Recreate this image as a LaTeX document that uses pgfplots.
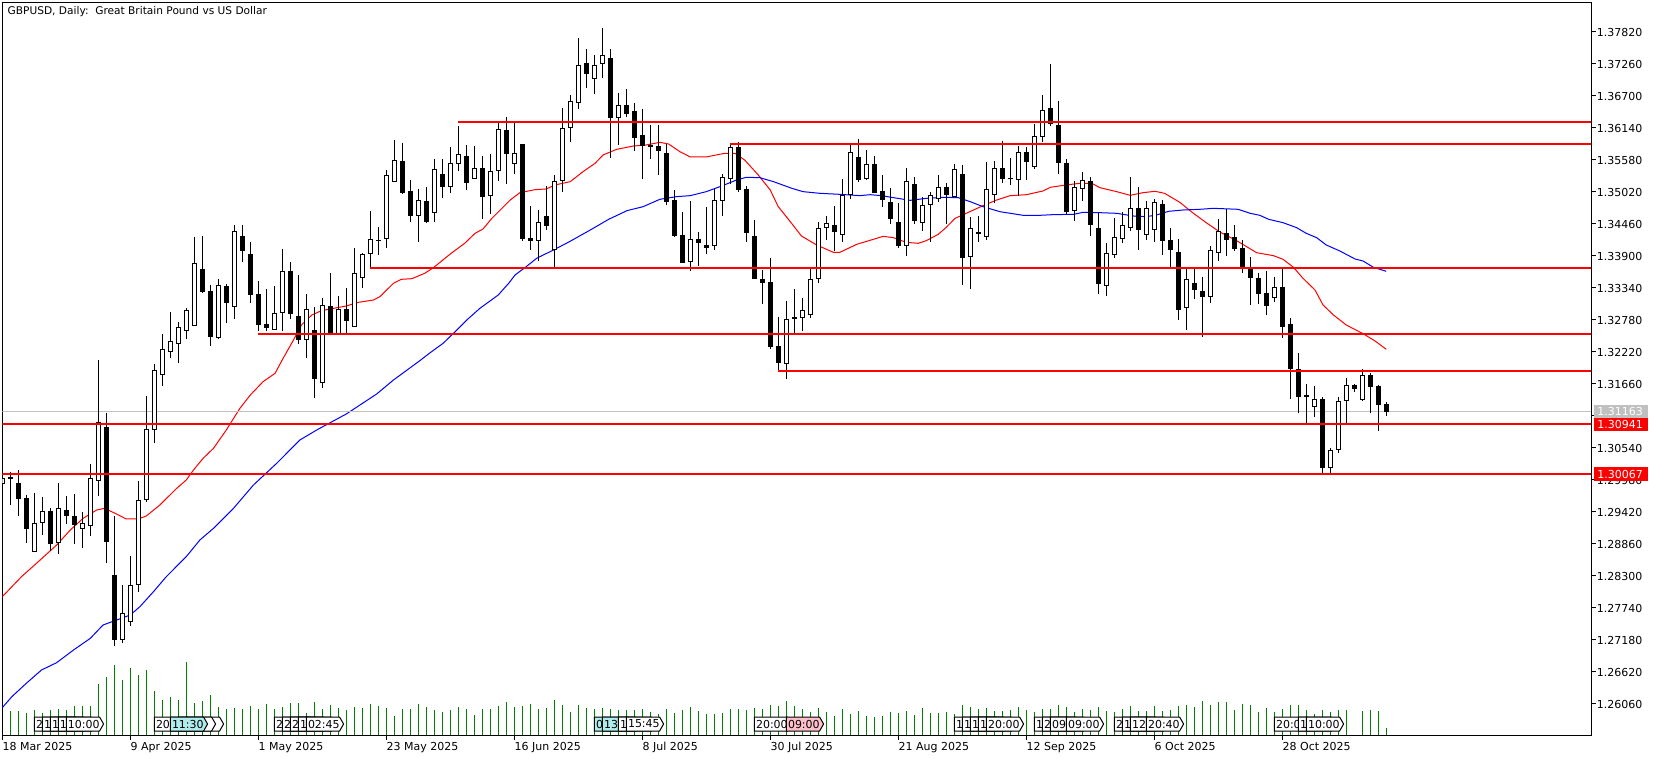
\documentclass[border=0pt]{standalone}
\usepackage{pgfplots}
\usepackage{pgfplotstable}
\usepackage{fontspec}
\setmainfont{DejaVu Sans}
\pgfplotsset{compat=1.18}
\definecolor{mtgreen}{RGB}{0,128,0}
\definecolor{mtgrey}{RGB}{192,192,192}
\definecolor{tagcyan}{RGB}{176,236,236}
\definecolor{tagpink}{RGB}{255,192,203}
\newcommand{\fs}{\fontsize{5.5pt}{6pt}\selectfont}
\pgfplotstableread{
i o h l c
0 1.29893 1.30056 1.29846 1.29998
4 1.28713 1.29741 1.28713 1.29210
5 1.29210 1.29671 1.29006 1.29420
7 1.28860 1.29916 1.28678 1.29473
10 1.29105 1.29408 1.28783 1.29210
11 1.29158 1.30248 1.28993 1.29998
12 1.29945 1.32068 1.29693 1.30978
15 1.27163 1.28125 1.27121 1.27635
16 1.27478 1.28633 1.27418 1.28125
17 1.28125 1.29945 1.28013 1.29613
18 1.29613 1.31438 1.29583 1.30855
19 1.30848 1.31993 1.30621 1.31893
20 1.31800 1.32518 1.31618 1.32255
21 1.32203 1.32903 1.32108 1.32395
22 1.32343 1.32733 1.32021 1.32640
23 1.32570 1.32973 1.32441 1.32938
24 1.32658 1.34221 1.32658 1.33760
27 1.32458 1.33480 1.32441 1.33375
29 1.32990 1.34431 1.32791 1.34320
34 1.32588 1.33363 1.32588 1.32885
35 1.32885 1.34011 1.32581 1.33620
38 1.32423 1.33218 1.32108 1.32955
40 1.31660 1.33148 1.31583 1.33025
42 1.32528 1.33183 1.32500 1.32955
44 1.32640 1.34028 1.32640 1.33585
45 1.33498 1.33935 1.33323 1.33918
46 1.33918 1.34676 1.33683 1.34180
47 1.34156 1.34390 1.33900 1.34173
48 1.34180 1.35388 1.34023 1.35300
49 1.35188 1.35918 1.35188 1.35563
52 1.34593 1.35055 1.34138 1.34863
54 1.34635 1.35580 1.34478 1.35405
56 1.35090 1.35790 1.34996 1.35510
57 1.35493 1.36163 1.35381 1.35668
59 1.35230 1.35808 1.35230 1.35423
61 1.34933 1.35668 1.34628 1.35370
62 1.35381 1.36210 1.35206 1.36105
64 1.35493 1.36210 1.35328 1.35685
67 1.34145 1.34688 1.33801 1.34478
69 1.33988 1.35300 1.33683 1.35195
70 1.35195 1.36473 1.35013 1.36123
71 1.36123 1.36700 1.35888 1.36595
72 1.36560 1.37698 1.36466 1.37225
74 1.36980 1.37400 1.36723 1.37225
75 1.37243 1.37873 1.37003 1.37400
77 1.36298 1.36735 1.35831 1.36525
86 1.33778 1.34845 1.33631 1.34180
89 1.34068 1.35055 1.33998 1.34863
90 1.34845 1.35318 1.34593 1.35265
91 1.35230 1.35860 1.35143 1.35790
98 1.31993 1.33095 1.31730 1.32780
100 1.32798 1.33148 1.32576 1.32938
101 1.32850 1.33673 1.32798 1.33480
102 1.33480 1.34478 1.33421 1.34373
103 1.34373 1.34583 1.34163 1.34460
105 1.34250 1.35230 1.34138 1.34950
106 1.34950 1.35836 1.34886 1.35703
108 1.35230 1.35738 1.35213 1.35493
113 1.34058 1.35423 1.33893 1.35195
115 1.34460 1.34915 1.34331 1.34775
116 1.34775 1.35003 1.34138 1.34950
117 1.34880 1.35300 1.34828 1.35090
119 1.34915 1.35493 1.34915 1.35405
121 1.33865 1.34565 1.33316 1.34373
123 1.34215 1.35528 1.34173 1.35055
124 1.34950 1.35545 1.34810 1.35423
126 1.35236 1.35598 1.35125 1.35253
127 1.35213 1.35808 1.34933 1.35703
129 1.35440 1.36193 1.35405 1.35983
130 1.35965 1.36700 1.35878 1.36438
134 1.34670 1.35195 1.34506 1.35090
135 1.35055 1.35353 1.34856 1.35213
138 1.33368 1.34110 1.33193 1.33935
139 1.33900 1.34548 1.33858 1.34215
140 1.34191 1.34653 1.34121 1.34425
141 1.34383 1.35265 1.34331 1.34723
143 1.34261 1.34845 1.34173 1.34723
144 1.34348 1.34880 1.34138 1.34828
148 1.32973 1.33673 1.32598 1.33480
151 1.33165 1.34058 1.33071 1.33988
152 1.33935 1.34530 1.33806 1.34320
159 1.33148 1.33521 1.33088 1.33340
164 1.31251 1.31608 1.31076 1.31380
166 1.30173 1.30523 1.30078 1.30488
167 1.30488 1.31415 1.30435 1.31345
168 1.31345 1.31748 1.30960 1.31625
170 1.31368 1.31911 1.31356 1.31800
}\bull
\pgfplotstableread{
i o h l c
1 1.30021 1.30103 1.29531 1.29991
2 1.29910 1.30143 1.29338 1.29641
3 1.29648 1.29706 1.28871 1.29116
6 1.29420 1.29473 1.28726 1.28853
8 1.29438 1.29688 1.29198 1.29343
9 1.29333 1.29723 1.28853 1.29175
13 1.30890 1.31141 1.28521 1.28888
14 1.28300 1.29338 1.27068 1.27163
25 1.33655 1.34238 1.33246 1.33258
26 1.33270 1.33375 1.32318 1.32476
28 1.33358 1.33393 1.32721 1.33071
30 1.34233 1.34431 1.33788 1.33981
31 1.33918 1.34128 1.33071 1.33211
32 1.33218 1.33445 1.32581 1.32686
33 1.32693 1.33305 1.32581 1.32633
36 1.33620 1.33783 1.32791 1.32878
37 1.32833 1.33550 1.32353 1.32423
39 1.32588 1.32990 1.31398 1.31741
41 1.33008 1.33585 1.32528 1.32535
43 1.32955 1.33323 1.32500 1.32756
50 1.35545 1.35866 1.34978 1.34996
51 1.35020 1.35213 1.34488 1.34593
53 1.34845 1.35090 1.34460 1.34478
55 1.35318 1.35580 1.34908 1.35101
58 1.35633 1.35825 1.35048 1.35171
60 1.35423 1.35633 1.34541 1.34926
63 1.36088 1.36315 1.35153 1.35668
65 1.35843 1.35843 1.34145 1.34191
66 1.34198 1.34763 1.33993 1.34145
68 1.34583 1.35108 1.34343 1.34418
73 1.37260 1.37505 1.36823 1.37078
76 1.37348 1.37505 1.35608 1.36308
78 1.36525 1.36805 1.36326 1.36378
79 1.36420 1.36560 1.35731 1.35958
80 1.36000 1.36455 1.35241 1.35813
81 1.35831 1.36175 1.35591 1.35801
82 1.35808 1.36175 1.35311 1.35731
83 1.35685 1.35843 1.34786 1.34838
84 1.34863 1.35038 1.34226 1.34238
85 1.34250 1.34653 1.33771 1.33771
87 1.34180 1.34303 1.33718 1.34121
88 1.34075 1.34740 1.33928 1.34033
92 1.35790 1.35878 1.35013 1.35048
93 1.35055 1.35108 1.34138 1.34296
94 1.34233 1.34513 1.33491 1.33491
95 1.33480 1.33638 1.33053 1.33421
96 1.33428 1.33848 1.32266 1.32301
97 1.32308 1.32821 1.31853 1.32010
99 1.32815 1.33305 1.32535 1.32791
104 1.34425 1.34758 1.33970 1.34303
107 1.35615 1.35930 1.35183 1.35218
109 1.35493 1.35633 1.34996 1.34996
110 1.35020 1.35300 1.34751 1.34873
111 1.34828 1.35073 1.34453 1.34541
112 1.34478 1.34810 1.34033 1.34068
114 1.35143 1.35265 1.34443 1.34506
118 1.35090 1.35160 1.34453 1.34961
120 1.35318 1.35475 1.33386 1.33858
122 1.34303 1.34583 1.34138 1.34278
125 1.35423 1.35895 1.35160 1.35241
128 1.35703 1.35790 1.35223 1.35538
131 1.36473 1.37243 1.36163 1.36203
132 1.36175 1.36595 1.35328 1.35521
133 1.35510 1.35580 1.34618 1.34653
136 1.35195 1.35265 1.34243 1.34436
137 1.34373 1.34646 1.33228 1.33403
142 1.34723 1.35090 1.33998 1.34348
145 1.34793 1.34863 1.33911 1.34156
146 1.34163 1.34373 1.33683 1.33998
147 1.33953 1.34180 1.32773 1.32948
149 1.33410 1.33673 1.33141 1.33298
150 1.33270 1.33515 1.32476 1.33165
153 1.34285 1.34705 1.33893 1.34173
154 1.34215 1.34425 1.33981 1.34016
155 1.34023 1.34163 1.33596 1.33701
156 1.33655 1.33865 1.33036 1.33508
157 1.33498 1.33585 1.33053 1.33228
158 1.33235 1.33626 1.32861 1.33018
160 1.33340 1.33655 1.32458 1.32651
161 1.32693 1.32798 1.31391 1.31911
162 1.31905 1.32185 1.31146 1.31426
163 1.31450 1.31648 1.30960 1.31426
165 1.31380 1.31415 1.30078 1.30183
169 1.31631 1.31648 1.31513 1.31566
171 1.31800 1.31835 1.31146 1.31601
172 1.31608 1.31625 1.30831 1.31286
173 1.31293 1.31328 1.31093 1.31163
}\bear
\pgfplotstableread{
i v
1 24.3
2 24.3
3 22.3
4 25.3
5 22.3
6 25.3
7 26.3
8 25.3
9 29.3
10 29.3
11 29.3
12 51.3
13 58.3
14 70.3
15 55.3
16 67.3
17 60.3
18 65.3
19 44.3
20 35.3
21 38.3
22 35.3
23 73.3
24 32.3
25 34.3
26 40.3
27 28.3
28 26.3
29 27.3
30 26.3
31 29.3
32 26.3
33 31.3
34 26.3
35 28.3
36 32.3
37 32.3
38 22.3
39 33.3
40 26.3
41 30.3
42 27.3
43 25.3
44 28.3
45 27.3
46 31.3
47 29.3
48 27.3
49 19.3
50 26.3
51 26.3
52 31.3
53 28
54 25
55 23
56 25
57 28
58 26
59 20
60 26
61 26
62 29
63 33
64 28
65 29
66 31
67 26
68 27
69 35
70 30
71 23
72 30
73 27
74 26
75 27
76 26
77 25
78 25
79 25
80 26
81 23
82 21
83 26
84 22
85 25
86 28
87 24
88 21
89 21
90 22
91 26
92 26
93 25
94 27
95 26
96 30
97 29
98 34
99 29
100 26
101 23
102 27
103 23
104 19
105 26
106 21
107 24
108 19
109 18
110 19
111 23
112 22
113 24
114 20
115 27
116 22
117 22
118 23
119 21
120 30
121 28
122 26
123 27
124 24
125 24
126 25
127 28
128 25
129 23
130 26
131 26
132 30
133 28
134 23
135 26
136 25
137 28
138 24
139 23
140 26
141 29
142 24
143 24
144 29
145 24
146 25
147 29
148 30
149 28
150 34
151 30
152 33
153 33
154 25
155 31
156 30
157 23
158 27
159 23
160 26
161 30
162 30
163 25
164 21
165 25
166 23
167 25
168 25
170 24
171 25
172 24
173 7
}\vol
\pgfplotstableread{
i p
0 1.27926
2.4 1.28276
4.5 1.28539
6.8 1.28831
8.5 1.29093
10.1 1.29297
11.8 1.29443
12.8 1.29472
14.1 1.29385
15.5 1.29286
17.0 1.29286
18.0 1.29338
19.7 1.29531
21.8 1.29822
23.0 1.29968
23.9 1.30143
25.1 1.30347
26.4 1.30522
28.0 1.30843
29.7 1.31222
31.0 1.31455
32.6 1.31689
34.1 1.31835
35.1 1.32097
36.4 1.32418
37.4 1.32681
38.7 1.32856
39.9 1.32931
41.4 1.32972
43.0 1.33013
44.5 1.33077
46.4 1.33118
47.2 1.33176
48.9 1.33410
49.9 1.33480
51.2 1.33491
52.2 1.33550
52.8 1.33585
53.9 1.33684
56.0 1.33923
57.8 1.34110
59.1 1.34285
60.1 1.34361
61.2 1.34547
63.5 1.34868
64.7 1.34996
66.6 1.35049
68.0 1.35061
69.1 1.35131
71.0 1.35189
72.6 1.35364
74.1 1.35510
75.1 1.35656
76.8 1.35755
78.9 1.35813
80.5 1.35831
82.2 1.35877
83.3 1.35848
84.7 1.35714
86.0 1.35621
88.0 1.35621
90.3 1.35685
91.6 1.35685
92.8 1.35568
94.5 1.35306
96.0 1.35043
97.0 1.34751
98.5 1.34489
99.9 1.34238
101.8 1.34081
103.9 1.33952
104.7 1.33952
106.8 1.34092
108.9 1.34180
110.1 1.34232
111.4 1.34209
113.0 1.34127
114.5 1.34110
115.5 1.34156
117.0 1.34267
118.0 1.34390
119.1 1.34547
120.5 1.34635
122.6 1.34769
124.3 1.34868
126.0 1.34944
128.0 1.34961
130.1 1.35026
131.0 1.35090
133.0 1.35131
134.7 1.35160
136.2 1.35160
137.2 1.35084
139.3 1.35014
141.0 1.34950
142.6 1.34996
144.1 1.35020
145.3 1.34985
147.2 1.34827
148.9 1.34635
150.5 1.34471
152.2 1.34308
154.3 1.34156
156.8 1.33946
158.9 1.33894
160.1 1.33830
161.4 1.33690
162.6 1.33497
164.1 1.33293
165.1 1.33031
166.4 1.32856
168.0 1.32681
170.1 1.32529
171.6 1.32401
173 1.32255
}\mared
\pgfplotstableread{
i p
0 1.25984
1.2 1.26177
3.0 1.26410
4.9 1.26643
6.8 1.26772
8.9 1.26993
11.0 1.27197
12.6 1.27431
14.1 1.27507
16.0 1.27606
17.2 1.27751
18.9 1.28014
20.5 1.28276
23.0 1.28627
24.7 1.28918
26.4 1.29122
28.9 1.29472
31.4 1.29881
34.3 1.30260
37.2 1.30668
39.3 1.30843
43.0 1.31123
46.8 1.31473
48.9 1.31718
52.2 1.32057
53.5 1.32197
55.1 1.32360
56.4 1.32535
58.3 1.32798
59.7 1.32972
62.0 1.33206
63.3 1.33410
64.1 1.33556
65.5 1.33702
66.8 1.33848
68.9 1.33993
70.9 1.34139
73.5 1.34343
75.8 1.34530
78.1 1.34682
80.1 1.34751
82.2 1.34880
84.3 1.34927
86.0 1.34944
88.0 1.35014
89.7 1.35101
91.8 1.35218
93.0 1.35265
94.7 1.35259
96.4 1.35189
98.7 1.35072
100.1 1.35014
102.2 1.34985
104.7 1.34967
107.2 1.34944
108.5 1.34961
109.9 1.34944
111.4 1.34909
113.5 1.34862
115.5 1.34897
117.6 1.34915
119.5 1.34909
121.0 1.34839
122.6 1.34751
124.7 1.34664
127.6 1.34600
129.7 1.34600
131.4 1.34612
133.9 1.34617
135.1 1.34652
137.2 1.34646
139.3 1.34635
141.4 1.34588
143.0 1.34576
144.3 1.34606
145.8 1.34670
147.6 1.34693
149.7 1.34705
151.4 1.34722
154.5 1.34705
156.0 1.34635
157.2 1.34600
158.3 1.34530
160.1 1.34471
161.8 1.34384
163.0 1.34285
164.3 1.34209
165.5 1.34081
167.2 1.33976
169.1 1.33836
170.1 1.33801
171.4 1.33690
173 1.33620
}\mablue
% x1 = left edge in image pixels; only the visible part of each stacked tag is written
\newcommand{\tagbox}[3][white]{%
  \path[draw=black,line width=0.5pt,fill=#1] (#2,717)--(#2+33.3,717)--(#2+37.3,724)--(#2+33.3,731)--(#2,731)--cycle;
  \node[anchor=west,inner sep=0pt,font=\fs,text=black] at (#2+1.3,724) {#3};}
\begin{document}
\begin{tikzpicture}[x=0.5pt,y=-0.5pt]
\path[use as bounding box] (0,0) rectangle (1661,759);
% volume pane
\begin{axis}[at={(1.15pt,-367.5pt)},anchor=south west,scale only axis,width=794.35pt,height=366.35pt,
  xmin=0,xmax=198.6,ymin=0,ymax=732.7,hide axis]
\addplot[ycomb,mtgreen,line width=0.5pt,mark=none] table[x=i,y=v] {\vol};
\end{axis}
% price pane
\begin{axis}[at={(1.15pt,-367.5pt)},anchor=south west,scale only axis,width=794.35pt,height=366.35pt,
  xmin=0,xmax=198.6,ymin=1.255055,ymax=1.3832775,
  axis line style={black,line width=0.5pt},
  tick style={black,line width=0.5pt},major tick length=2.4pt,tick align=outside,
  xtick={0,16,32,48,64,80,96,112,128,144,160},
  xticklabels={18 Mar 2025,9 Apr 2025,1 May 2025,23 May 2025,16 Jun 2025,8 Jul 2025,30 Jul 2025,21 Aug 2025,12 Sep 2025,6 Oct 2025,28 Oct 2025},
  xtick pos=bottom,ytick pos=right,yticklabel pos=right,
  xticklabel style={font=\fs,anchor=north west,inner xsep=0pt,inner ysep=0pt,yshift=-0.8pt,text height=4.2pt,text depth=1pt},
  ytick={1.26060,1.26620,1.27180,1.27740,1.28300,1.28860,1.29420,1.29980,1.30540,1.31100,1.31660,1.32220,1.32780,1.33340,1.33900,1.34460,1.35020,1.35580,1.36140,1.36700,1.37260,1.37820},
  scaled y ticks=false,
  yticklabel style={font=\fs,anchor=west,inner xsep=0pt,xshift=0.3pt,yshift=-0.4pt,
    /pgf/number format/.cd,fixed,fixed zerofill,precision=5,assume math mode=true},
]
\addplot[red,line width=0.5pt] table[x=i,y=p] {\mared};
\addplot[blue,line width=0.5pt] table[x=i,y=p] {\mablue};
\addplot[mtgrey,line width=0.5pt] coordinates {(0,1.31163)(198.6,1.31163)};
% wicks
\addplot[draw=none,mark=none,error bars/.cd,y dir=minus,y explicit,error mark=none,error bar style={black,line width=0.5pt}]
  table[x=i,y=h,y error minus expr=\thisrow{h}-\thisrow{l}] {\bull};
\addplot[draw=none,mark=none,error bars/.cd,y dir=minus,y explicit,error mark=none,error bar style={black,line width=0.5pt}]
  table[x=i,y=h,y error minus expr=\thisrow{h}-\thisrow{l}] {\bear};
% bodies
\addplot[draw=none,mark=none,error bars/.cd,y dir=minus,y explicit,error mark=none,error bar style={black,line width=2.5pt}]
  table[x=i,y=c,y error minus expr=\thisrow{c}-\thisrow{o}] {\bull};
\addplot[draw=none,mark=none,error bars/.cd,y dir=minus,y explicit,error mark=none,error bar style={white,line width=1.5pt}]
  table[x=i,y expr=\thisrow{c}-0.000175,y error minus expr={max(\thisrow{c}-\thisrow{o}-0.00035,0)}] {\bull};
\addplot[draw=none,mark=none,error bars/.cd,y dir=minus,y explicit,error mark=none,error bar style={black,line width=2.5pt}]
  table[x=i,y=o,y error minus expr=\thisrow{o}-\thisrow{c}] {\bear};
% horizontal levels
\addplot[red,line width=1pt] coordinates {(57,1.36233)(198.6,1.36233)};
\addplot[red,line width=1pt] coordinates {(91,1.35848)(198.6,1.35848)};
\addplot[red,line width=1pt] coordinates {(46,1.33683)(198.6,1.33683)};
\addplot[red,line width=1pt] coordinates {(32,1.32523)(198.6,1.32523)};
\addplot[red,line width=1pt] coordinates {(97,1.31881)(198.6,1.31881)};
\addplot[red,line width=1pt] coordinates {(0,1.30941)(198.6,1.30941)};
\addplot[red,line width=1pt] coordinates {(0,1.30067)(198.6,1.30067)};
\end{axis}
% price tags
\fill[mtgrey] (1594,405.3) rectangle (1648,417.7);
\node[anchor=west,inner sep=0pt,font=\fs,text=white] at (1597,411.8) {1.31163};
\fill[red] (1594,418) rectangle (1648,430.7);
\node[anchor=west,inner sep=0pt,font=\fs,text=white] at (1597,424.6) {1.30941};
\fill[red] (1594,467.3) rectangle (1648,481);
\node[anchor=west,inner sep=0pt,font=\fs,text=white] at (1597,474.4) {1.30067};
% title
\node[anchor=west,inner sep=0pt,font=\fontsize{5.3pt}{6pt}\selectfont,text=black] at (7.3,11.7) {GBPUSD, Daily:\ \ Great Britain Pound vs US Dollar};
% event tags
\tagbox{34.3}{2}\tagbox{42.3}{1}\tagbox{50.3}{1}\tagbox{58.3}{1}\tagbox{66.3}{10:00}
\tagbox{186.3}{}\tagbox{178.3}{}\tagbox{154.3}{20}\tagbox[tagcyan]{170.3}{11:30}
\tagbox{274.3}{2}\tagbox{282.3}{2}\tagbox{290.3}{2}\tagbox{298.3}{1}\tagbox{306.3}{02:45}
\tagbox[tagcyan]{594.3}{0}\tagbox[tagcyan]{602.3}{13}\tagbox{618.3}{1}\tagbox{626.3}{15:45}
\tagbox{754.3}{20:00}\tagbox[tagpink]{786.3}{09:00}
\tagbox{954.3}{1}\tagbox{962.3}{1}\tagbox{970.3}{1}\tagbox{978.3}{1}\tagbox{986.3}{20:00}
\tagbox{1034.3}{1}\tagbox{1042.3}{2}\tagbox{1050.3}{09}\tagbox{1066.3}{09:00}
\tagbox{1114.3}{2}\tagbox{1122.3}{1}\tagbox{1130.3}{12}\tagbox{1146.3}{20:40}
\tagbox{1274.3}{20:0}\tagbox{1298.3}{1}\tagbox{1306.3}{10:00}
\end{tikzpicture}
\end{document}
